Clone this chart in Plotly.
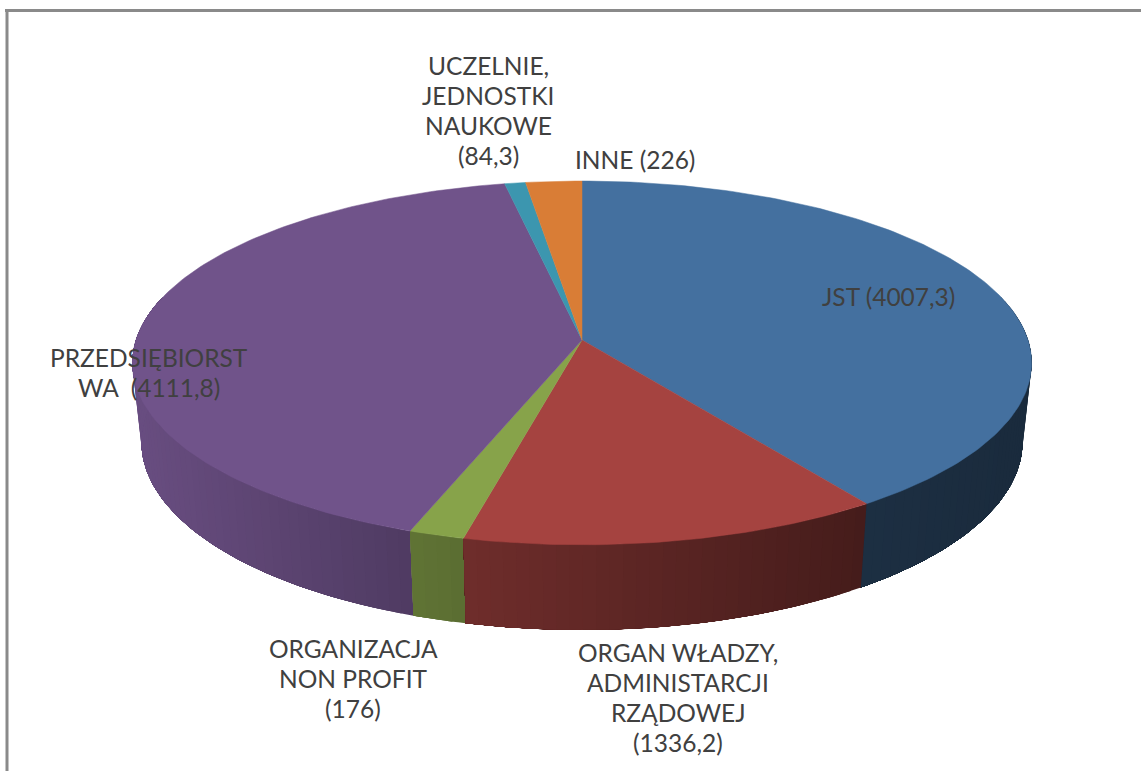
import numpy as np
import plotly.graph_objects as go

# ---- data ----
categories = ["JST", "ORGAN WŁADZY, ADMINISTARCJI RZĄDOWEJ", "ORGANIZACJA NON PROFIT",
              "PRZEDSIĘBIORSTWA", "UCZELNIE, JEDNOSTKI NAUKOWE", "INNE"]
values = [4007.3, 1336.2, 176, 4111.8, 84.3, 226]
label_texts = [["JST (4007,3)"],
               ["ORGAN WŁADZY,", "ADMINISTARCJI", "RZĄDOWEJ", "(1336,2)"],
               ["ORGANIZACJA", "NON PROFIT", "(176)"],
               ["PRZEDSIĘBIORST", "WA  (4111,8)"],
               ["UCZELNIE,", "JEDNOSTKI", "NAUKOWE", "(84,3)"],
               ["INNE (226)"]]

# ---- styling and layout ----
colors = ["#44709F", "#A54340", "#87A34A", "#70538A", "#3C96AF", "#D97D36"]
label_first_line = [(888, 296), (678, 652), (353, 648), (149, 357), (488, 65), (635, 159)]
LINE_STEP = 30
CX, CY, A, B, K = 582.0, 340.0, 446.0, 179.0, 0.126   # perspective of the disc
S, D = 0.98, 78.0                                      # bottom disc scale and thickness


def rgb(hexc):
    return np.array([int(hexc[i:i + 2], 16) for i in (1, 3, 5)], float)


def top(theta):
    u, v = np.sin(theta), np.cos(theta)
    den = 1 + K * v
    return CX + A * u / den, CY - B * v / den


def bottom(theta):
    u, v = np.sin(theta), np.cos(theta)
    den = 1 + K * v
    return CX + S * A * u / den, CY - S * B * v / den + D / den


def shade(x):
    return np.interp(x, [135, 450, 863, 1030], [0.93, 0.68, 0.42, 0.38])


fracs = np.array(values) / sum(values)
edges = np.concatenate([[0], np.cumsum(fracs)]) * 2 * np.pi

fig = go.Figure()

# side wall: bands painted from the left, each running on to the end of its slice,
# so that no seams show between neighbouring bands
bands = []
for i, col in enumerate(colors):
    n = max(2, int(np.degrees(edges[i + 1] - edges[i]) / 1.5))
    th = np.linspace(edges[i], edges[i + 1], n + 1)
    for t0, t1 in zip(th[:-1], th[1:]):
        if np.cos((t0 + t1) / 2) < 0.25:
            bands.append((i, t0, t1, col))
for i in sorted({b[0] for b in bands}, key=lambda i: -np.cos((edges[i] + edges[i + 1]) / 2)):
    group = [b for b in bands if b[0] == i]
    # right-hand bands first, wider ones underneath
    for _, t0, t1, col in group:
        end = group[-1][2]
        tt = np.linspace(t0, end, max(2, int(np.degrees(end - t0)) + 2))
        xa, ya = top(tt)
        xb, yb = bottom(tt[::-1])
        xs = np.concatenate([xa, xb, xa[:1]])
        ys = np.concatenate([ya, yb, ya[:1]])
        xm = top(np.array([(t0 + t1) / 2]))[0][0]
        c = rgb(col) * shade(xm)
        cs = f"rgb({c[0]:.0f},{c[1]:.0f},{c[2]:.0f})"
        fig.add_trace(go.Scatter(x=xs, y=ys, mode="lines", fill="toself", fillcolor=cs,
                                 line=dict(width=0), hoverinfo="skip", showlegend=False))

# top face
for i, col in enumerate(colors):
    n = max(4, int(np.degrees(edges[i + 1] - edges[i])))
    th = np.linspace(edges[i], edges[i + 1], n + 1)
    xe, ye = top(th)
    xs = np.concatenate([[CX], xe, [CX]])
    ys = np.concatenate([[CY], ye, [CY]])
    fig.add_trace(go.Scatter(x=xs, y=ys, mode="lines", fill="toself", fillcolor=col,
                             line=dict(color=col, width=0.5), name=categories[i],
                             hoverinfo="name", showlegend=False))

for lines, (lx, ly) in zip(label_texts, label_first_line):
    for j, txt in enumerate(lines):
        fig.add_annotation(x=lx, y=ly + j * LINE_STEP, xref="x", yref="y", text=txt,
                           showarrow=False, xanchor="center", yanchor="middle", align="center",
                           font=dict(family="Lato, Open Sans, sans-serif", size=24.5, color="#404040"))

frame = "#8A8A8A"
fig.add_shape(type="line", xref="x", yref="y", x0=5, x1=1141, y0=10.5, y1=10.5,
              line=dict(color=frame, width=3))
fig.add_shape(type="line", xref="x", yref="y", x0=7, x1=7, y0=9, y1=771,
              line=dict(color=frame, width=3))

fig.update_layout(
    width=1141, height=771, margin=dict(l=0, r=0, t=0, b=0),
    paper_bgcolor="white", plot_bgcolor="white",
    xaxis=dict(range=[0, 1141], visible=False, fixedrange=True),
    yaxis=dict(range=[771, 0], visible=False, fixedrange=True),
)
fig.write_html("out.html", config={"displayModeBar": False},
               post_script="document.body.style.margin='0';")
